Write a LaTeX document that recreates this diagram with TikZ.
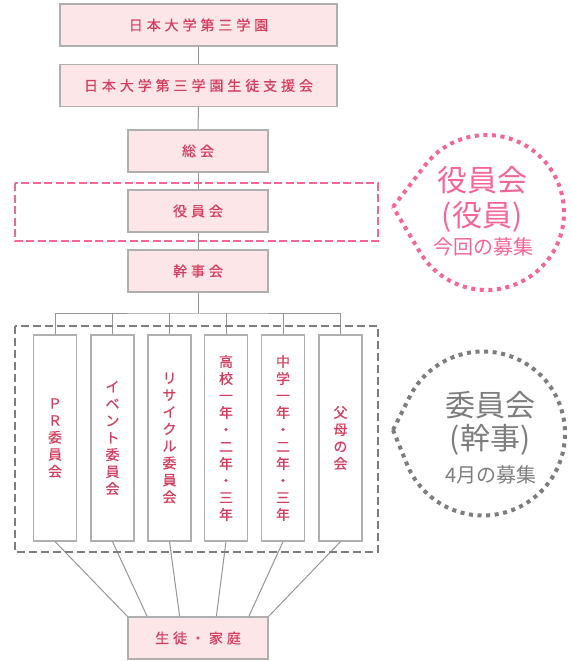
\documentclass[tikz,border=0pt]{standalone}
\usepackage{fontspec}
\usepackage{tikz}
\usetikzlibrary{calc}
\newfontfamily\boxfont[LetterSpace=28, FakeBold=0.6]{Noto Sans CJK JP}
\newfontfamily\colfont[FakeBold=0.6]{Noto Sans CJK JP}
\newfontfamily\notefont{Noto Sans CJK JP}
\definecolor{boxfill}{RGB}{252, 230, 232}
\definecolor{boxline}{RGB}{175, 175, 175}
\definecolor{boxtext}{RGB}{214, 62, 96}
\definecolor{linkgray}{RGB}{150, 150, 150}
\definecolor{hotpink}{RGB}{247, 100, 150}
\definecolor{framegray}{RGB}{125, 125, 125}

\tikzset{
  box/.style={draw=boxline, line width=1.2pt, fill=boxfill, text=boxtext,
              minimum height=42pt, inner sep=0pt, font=\boxfont\fontsize{14}{16}\selectfont},
  widebox/.style={box, minimum width=277pt},
  midbox/.style={box, minimum width=140pt},
  column/.style={draw=boxline, line width=1.2pt, fill=white, text=boxtext,
                 minimum width=43pt, minimum height=206pt, inner sep=0pt, align=center,
                 font=\colfont\fontsize{14}{17}\selectfont},
  link/.style={draw=linkgray, line width=1pt},
  callout/.style={line width=4pt, dash pattern=on 4pt off 4.6pt},
  bigtext/.style={inner sep=0pt, font=\notefont\fontsize{30}{30}\selectfont},
  smalltext/.style={inner sep=0pt, font=\notefont\fontsize{20}{20}\selectfont}
}

\begin{document}
\begin{tikzpicture}[x=1pt, y=1pt]
  \useasboundingbox (0,0) rectangle (572,-661);
  % Head boxes
  \node[widebox] (gakuen) at (198.5, -25.0) {日本大学第三学園};
  \node[widebox] (shien)  at (198.5, -85.5) {日本大学第三学園生徒支援会};
  \node[midbox]  (sokai)  at (198.0,-151.0) {総会};
  \node[midbox]  (yakuin) at (198.0,-211.0) {役員会};
  \node[midbox]  (kanji)  at (198.0,-271.0) {幹事会};
  % Committees
  \node[column] (pr)      at ( 55.0,-438.0) {Ｐ\\Ｒ\\委\\員\\会};
  \node[column] (event)   at (112.5,-438.0) {イ\\ベ\\ン\\ト\\委\\員\\会};
  \node[column] (recycle) at (169.5,-438.0) {リ\\サ\\イ\\ク\\ル\\委\\員\\会};
  \node[column] (koko)    at (226.0,-438.0) {高\\校\\一\\年\\・\\二\\年\\・\\三\\年};
  \node[column] (chugaku) at (283.0,-438.0) {中\\学\\一\\年\\・\\二\\年\\・\\三\\年};
  \node[column] (fubo)    at (340.5,-438.0) {父\\母\\の\\会};
  % Students and families
  \node[midbox]  (katei)  at (198.0,-638.0) {生徒・家庭};
  % Links
  \draw[link] (gakuen) -- (shien);
  \draw[link] (shien) -- (sokai);
  \draw[link] (sokai) -- (yakuin);
  \draw[link] (yakuin) -- (kanji);
  \coordinate (bus) at (198.0,-313.0);
  \draw[link] (kanji) -- (bus);
  \draw[link] (pr.north) |- (bus) -| (fubo.north);
  \foreach \c in {event, recycle, koko, chugaku}
    \draw[link] (\c.north) -- (\c.north |- bus);
  \draw[link] (pr.south)      -- (katei.north west);
  \draw[link] (event.south)   -- ($(katei.north west)!0.14!(katei.north east)$);
  \draw[link] (recycle.south) -- ($(katei.north west)!0.37!(katei.north east)$);
  \draw[link] (koko.south)    -- ($(katei.north west)!0.63!(katei.north east)$);
  \draw[link] (chugaku.south) -- ($(katei.north west)!0.86!(katei.north east)$);
  \draw[link] (fubo.south)    -- (katei.north east);
  % Frames
  \draw[hotpink, line width=2pt, dash pattern=on 8pt off 3.5pt]    (15,-183) rectangle (378,-241);
  \draw[framegray, line width=2.5pt, dash pattern=on 8pt off 4pt] (15,-326) rectangle (378,-552);
  % Callout: officers
  \draw[callout, hotpink] (393,-207) -- ([shift={(486.5,-212.5)}]142.9:77.5)
       arc[start angle=142.9, end angle=-149.7, radius=77.5] -- cycle;
  \node[bigtext, text=hotpink]   (yakuinA) at (482,-180) {役員会};
  \node[bigtext, text=hotpink]   (yakuinB) at (482,-217) {(役員)};
  \node[smalltext, text=hotpink] (yakuinC) at (483,-247) {今回の募集};
  % Callout: committees
  \draw[callout, framegray] (393,-430) -- ([shift={(483,-433.5)}]153.4:82)
       arc[start angle=153.4, end angle=-157.8, radius=82] -- cycle;
  \node[bigtext, text=framegray]   (iinA) at (490,-405) {委員会};
  \node[bigtext, text=framegray]   (iinB) at (490,-440) {(幹事)};
  \node[smalltext, text=framegray] (iinC) at (491,-475) {4月の募集};
\end{tikzpicture}
\end{document}
